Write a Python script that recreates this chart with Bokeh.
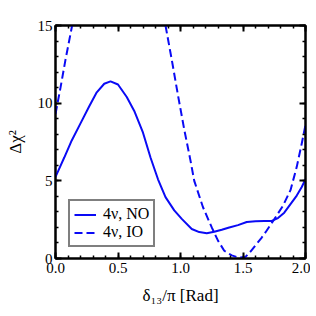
from bokeh.plotting import figure
from bokeh.models import LinearAxis, Range1d, Legend, LegendItem, CustomJSTickFormatter, FixedTicker
from bokeh.embed import file_html
from bokeh.resources import INLINE
import numpy as np

# NO (solid)
no_x = [0.0, 0.07, 0.13, 0.2, 0.27, 0.33, 0.39, 0.44, 0.5, 0.57, 0.63, 0.7, 0.76, 0.82, 0.88, 0.95, 1.01, 1.09, 1.15, 1.21, 1.27, 1.33, 1.39, 1.46, 1.53, 1.6, 1.67, 1.73, 1.78, 1.83, 1.88, 1.93, 1.97, 2.0]
no_y = [5.25, 6.5, 7.6, 8.7, 9.8, 10.7, 11.25, 11.4, 11.2, 10.4, 9.5, 8.1, 6.5, 5.1, 3.95, 3.1, 2.55, 1.9, 1.7, 1.63, 1.72, 1.85, 2.0, 2.15, 2.35, 2.4, 2.42, 2.42, 2.6, 2.95, 3.5, 4.05, 4.6, 5.1]

# IO (dashed), two visible branches
io_x = [0.0, 0.04, 0.08, 0.133, np.nan, 0.88, 0.93, 0.98, 1.03, 1.08, 1.11, 1.18, 1.25, 1.3, 1.35, 1.41, 1.47, 1.52, 1.56, 1.61, 1.65, 1.69, 1.76, 1.82, 1.88, 1.93, 1.97, 2.0]
io_y = [9.3, 11.0, 12.8, 15.0, np.nan, 15.0, 12.8, 10.5, 8.3, 6.3, 5.0, 3.3, 2.0, 1.15, 0.5, 0.2, 0.05, 0.1, 0.45, 0.95, 1.35, 1.8, 2.65, 3.4, 4.4, 5.9, 7.4, 8.6]

x_ticks = [0.0, 0.5, 1.0, 1.5, 2.0]
y_ticks = [0, 5, 10, 15]

FONT = "Liberation Serif"
BLUE = "#0a0af5"

p = figure(width=310, height=310, output_backend="svg", toolbar_location=None,
           x_range=Range1d(0, 2), y_range=Range1d(0, 15),
           min_border_left=55, min_border_right=5, min_border_top=25, min_border_bottom=52)
p.grid.visible = False
p.outline_line_color = "black"
p.outline_line_width = 2
p.background_fill_color = "white"
p.border_fill_color = "white"

r1 = p.line(no_x, no_y, line_color=BLUE, line_width=2)
r2 = p.line(io_x, io_y, line_color=BLUE, line_width=2, line_dash="8 4")

def style(ax, ticks, minor, labels=True):
    ax.ticker = FixedTicker(ticks=ticks, minor_ticks=minor)
    ax.axis_line_color = "black"
    ax.axis_line_width = 2
    ax.major_tick_in = 6
    ax.major_tick_out = 0
    ax.minor_tick_in = 3
    ax.minor_tick_out = 0
    ax.major_tick_line_width = 2
    ax.minor_tick_line_width = 1.5
    ax.major_label_text_font = FONT
    ax.major_label_text_font_size = "15px"
    ax.major_label_text_color = "black"
    ax.axis_label_text_font = FONT
    ax.axis_label_text_font_style = "normal"
    ax.axis_label_text_font_size = "17px"
    ax.axis_label_text_color = "black"
    if not labels:
        ax.major_label_text_color = None
        ax.major_label_text_font_size = "1px"
        ax.major_label_standoff = 0

x_minor = [i / 10 for i in range(0, 21)]
y_minor = list(range(0, 16))

style(p.xaxis[0], x_ticks, x_minor)
style(p.yaxis[0], y_ticks, y_minor)
p.xaxis[0].formatter = CustomJSTickFormatter(code="return tick.toFixed(1)")
p.xaxis[0].major_label_standoff = 4
p.yaxis[0].major_label_standoff = 3
p.xaxis[0].axis_label = "δ₁₃/π [Rad]"
p.yaxis[0].axis_label = "Δχ²"
p.xaxis[0].axis_label_standoff = 10
p.yaxis[0].axis_label_standoff = 10

top = LinearAxis()
right = LinearAxis()
style(top, x_ticks, x_minor, labels=False)
style(right, y_ticks, y_minor, labels=False)
p.add_layout(top, "above")
p.add_layout(right, "right")

legend = Legend(items=[LegendItem(label="4ν, NO", renderers=[r1]),
                       LegendItem(label="4ν, IO", renderers=[r2])],
                location=(13, 11))
legend.border_line_color = "black"
legend.border_line_width = 2
legend.label_text_font = FONT
legend.label_text_font_size = "16px"
legend.label_text_color = "black"
legend.glyph_width = 22
legend.glyph_height = 15
legend.label_standoff = 7
legend.label_height = 15
legend.spacing = 0
legend.padding = 4
legend.margin = 0
legend.background_fill_alpha = 1
p.add_layout(legend, "center")

open("out.html", "w").write(file_html(p, INLINE))
